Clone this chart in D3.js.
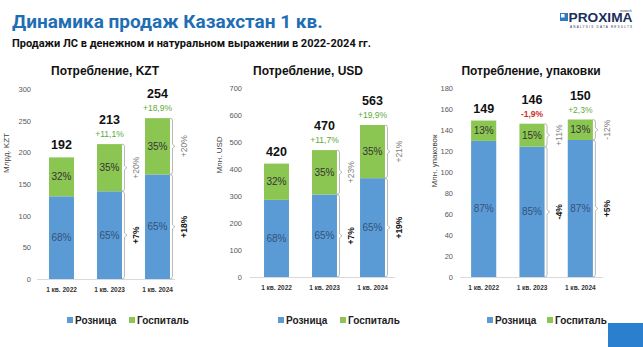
<!DOCTYPE html>
<html><head><meta charset="utf-8">
<script src="https://cdn.jsdelivr.net/npm/d3@7/dist/d3.min.js"></script>
<style>
html,body{margin:0;padding:0;background:#fff;}
svg{display:block;font-family:"Liberation Sans",Arial,sans-serif;}
</style></head>
<body><svg id="c" width="643" height="347"></svg>
<script>
// ---------- DATA ----------
const categories = ["1 кв. 2022", "1 кв. 2023", "1 кв. 2024"];
const seriesNames = ["Розница", "Госпиталь"];

// Потребление, KZT (млрд)
const kztTotals = [192, 213, 254];
const kztRetail = [130.6, 138.5, 165.1];
const kztHospital = [61.4, 74.5, 88.9];
const kztRetailShare = ["68%", "65%", "65%"];
const kztHospitalShare = ["32%", "35%", "35%"];
const kztGrowth = [null, "+11,1%", "+18,9%"];
const kztRetailGrowth = [null, "+7%", "+18%"];
const kztHospitalGrowth = [null, "+20%", "+20%"];
const kztTicks = [0, 50, 100, 150, 200, 250, 300];

// Потребление, USD (млн)
const usdTotals = [420, 470, 563];
const usdRetail = [285.6, 305.5, 366.0];
const usdHospital = [134.4, 164.5, 197.0];
const usdRetailShare = ["68%", "65%", "65%"];
const usdHospitalShare = ["32%", "35%", "35%"];
const usdGrowth = [null, "+11,7%", "+19,9%"];
const usdRetailGrowth = [null, "+7%", "+19%"];
const usdHospitalGrowth = [null, "+23%", "+21%"];
const usdTicks = [0, 100, 200, 300, 400, 500, 600, 700];

// Потребление, упаковки (млн)
const packTotals = [149, 146, 150];
const packRetail = [129.6, 124.1, 130.5];
const packHospital = [19.4, 21.9, 19.5];
const packRetailShare = ["87%", "85%", "87%"];
const packHospitalShare = ["13%", "15%", "13%"];
const packGrowth = [null, "-1,9%", "+2,3%"];
const packRetailGrowth = [null, "-4%", "+5%"];
const packHospitalGrowth = [null, "+11%", "-12%"];
const packTicks = [0, 20, 40, 60, 80, 100, 120, 140, 160, 180];

// ---------- STYLE ----------
const BLUE = "#5B9BD5", GREEN = "#8CC652";
const svg = d3.select("#c");

// Header
svg.append("text").attr("x", 12).attr("y", 28)
  .style("font-family", "Roboto, sans-serif").style("font-weight", 700)
  .style("font-size", "19px").attr("fill", "#1F6EB4")
  .text("Динамика продаж Казахстан 1 кв.");
svg.append("text").attr("x", 12).attr("y", 46.5)
  .style("font-family", "Roboto, sans-serif").style("font-weight", 700)
  .style("font-size", "11px").attr("fill", "#111")
  .text("Продажи ЛС в денежном и натуральном выражении в 2022-2024 гг.");

// Logo
const logo = svg.append("g");
logo.append("rect").attr("x", 560).attr("y", 13).attr("width", 8).attr("height", 8).attr("fill", "#2B7CC4");
logo.append("rect").attr("x", 561).attr("y", 14).attr("width", 3.5).attr("height", 3.5).attr("fill", "#fff");
logo.append("text").attr("x", 568.5).attr("y", 22).style("font-weight", 700).style("font-size", "12.5px")
  .attr("fill", "#1B2F5B").attr("textLength", 64).attr("lengthAdjust", "spacingAndGlyphs").text("PROXIMA");
logo.append("text").attr("x", 570).attr("y", 28).style("font-size", "3px").attr("fill", "#1B2F5B")
  .attr("textLength", 62).text("ANALYSIS   DATA   RESULTS");
logo.append("text").attr("x", 620).attr("y", 11.5).style("font-size", "3px").attr("fill", "#1B2F5B").text("research");

// bottom-right decoration
svg.append("rect").attr("x", 608).attr("y", 323).attr("width", 35).attr("height", 24).attr("fill", "#2A80CF");

function bracketPath(x, y1, y2) {
  const ym = (y1 + y2) / 2;
  return `M${x-2.5},${y1} Q${x},${y1} ${x},${y1+2.5} L${x},${ym-2} L${x+2.5},${ym} L${x},${ym+2} L${x},${y2-2.5} Q${x},${y2} ${x-2.5},${y2}`;
}

function panel(cfg) {
  const g = svg.append("g");
  const x = d3.scaleBand().domain(categories).range([cfg.x0, cfg.x1])
    .paddingInner(0.48).paddingOuter(0.24);
  const y = d3.scaleLinear().domain([0, cfg.ticks[cfg.ticks.length - 1]]).range([cfg.yBase, cfg.yTop]);

  // title
  g.append("text").attr("x", cfg.titleX).attr("y", 75).attr("text-anchor", "middle")
    .style("font-weight", 700).style("font-size", "12px").attr("fill", "#111").text(cfg.title);

  // y axis (ticks only, no line)
  const ax = g.append("g").attr("transform", `translate(${cfg.tickX},0)`)
    .call(d3.axisLeft(y).tickValues(cfg.ticks).tickSize(0).tickPadding(0).tickFormat(d3.format("d")));
  ax.select(".domain").remove();
  ax.selectAll("text").style("font-size", "7.5px").attr("fill", "#595959")
    .style("font-family", '"Liberation Sans",Arial,sans-serif');

  // axis title
  g.append("text").attr("transform", `translate(${cfg.axTitleX},${cfg.axTitleY}) rotate(-90)`)
    .attr("text-anchor", "middle").style("font-size", "8px").attr("fill", "#404040").text(cfg.axTitle);

  // baseline
  g.append("line").attr("x1", cfg.lineX0).attr("x2", cfg.lineX1).attr("y1", cfg.yBase + 0.5).attr("y2", cfg.yBase + 0.5)
    .attr("stroke", "#d9d9d9").attr("stroke-width", 1);

  const bw = x.bandwidth();
  categories.forEach((c, i) => {
    const bx = x(c);
    const r = cfg.retail[i], h = cfg.hospital[i];
    g.append("rect").attr("x", bx).attr("y", y(r)).attr("width", bw).attr("height", y(0) - y(r)).attr("fill", BLUE);
    g.append("rect").attr("x", bx).attr("y", y(r + h)).attr("width", bw).attr("height", y(r) - y(r + h)).attr("fill", GREEN);
    g.append("text").attr("x", bx + bw / 2).attr("y", (y(0) + y(r)) / 2).attr("dy", "0.35em")
      .attr("text-anchor", "middle").style("font-size", "10px").attr("fill", "#34527A").text(cfg.retailShare[i]);
    g.append("text").attr("x", bx + bw / 2).attr("y", (y(r) + y(r + h)) / 2).attr("dy", "0.35em")
      .attr("text-anchor", "middle").style("font-size", "10px").attr("fill", "#333").text(cfg.hospitalShare[i]);
    const top = y(cfg.totals[i]);
    const hasG = cfg.growth[i] != null;
    g.append("text").attr("x", bx + bw / 2).attr("y", hasG ? top - 20 : top - 8)
      .attr("text-anchor", "middle").style("font-weight", 700).style("font-size", "12.5px").attr("fill", "#111")
      .text(cfg.totals[i]);
    if (hasG) {
      const neg = cfg.growth[i][0] === "-";
      g.append("text").attr("x", bx + bw / 2).attr("y", top - 7)
        .attr("text-anchor", "middle").style("font-size", "8.5px")
        .attr("fill", neg ? "#C8302B" : "#5EA83A").style("font-weight", neg ? 700 : 400).text(cfg.growth[i]);
      const bxr = bx + bw + 2.5;
      g.append("path").attr("d", bracketPath(bxr, y(r + h), y(r))).attr("fill", "none").attr("stroke", "#a6a6a6").attr("stroke-width", 0.8);
      g.append("path").attr("d", bracketPath(bxr, y(r), y(0))).attr("fill", "none").attr("stroke", "#a6a6a6").attr("stroke-width", 0.8);
      const lx = bxr + 12;
      const ymH = (y(r + h) + y(r)) / 2, ymR = (y(r) + y(0)) / 2;
      g.append("text").attr("transform", `translate(${lx},${ymH}) rotate(-90)`).attr("dy", "0.35em")
        .attr("text-anchor", "middle").style("font-size", "8.5px").attr("fill", "#7f7f7f").text(cfg.hospitalGrowth[i]);
      g.append("text").attr("transform", `translate(${lx},${ymR}) rotate(-90)`).attr("dy", "0.35em")
        .attr("text-anchor", "middle").style("font-size", "8.5px").style("font-weight", 700).attr("fill", "#111").text(cfg.retailGrowth[i]);
    }
    g.append("text").attr("x", bx + bw / 2).attr("y", cfg.catY).attr("text-anchor", "middle")
      .style("font-size", "6.5px").style("font-weight", 700).attr("fill", "#333").text(c);
  });

  const lg = g.append("g");
  [[cfg.legX[0], BLUE, seriesNames[0]], [cfg.legX[1], GREEN, seriesNames[1]]].forEach(([lx, col, name]) => {
    lg.append("rect").attr("x", lx).attr("y", 317).attr("width", 6).attr("height", 6).attr("fill", col);
    lg.append("text").attr("x", lx + 8).attr("y", 323.5).style("font-size", "10px").style("font-weight", 700)
      .attr("fill", "#222").text(name);
  });
}

panel({
  title: "Потребление, KZT", titleX: 105, axTitle: "Млрд. KZT", axTitleX: 9, axTitleY: 153,
  x0: 37.5, x1: 181.5, yBase: 279, yTop: 89, tickX: 31, lineX0: 37, lineX1: 175, catY: 292,
  ticks: kztTicks, totals: kztTotals, retail: kztRetail, hospital: kztHospital,
  retailShare: kztRetailShare, hospitalShare: kztHospitalShare, growth: kztGrowth,
  retailGrowth: kztRetailGrowth, hospitalGrowth: kztHospitalGrowth, legX: [67, 129]
});
panel({
  title: "Потребление, USD", titleX: 308, axTitle: "Млн. USD", axTitleX: 222, axTitleY: 155,
  x0: 252.5, x1: 396.5, yBase: 277, yTop: 88, tickX: 242, lineX0: 250, lineX1: 395, catY: 290,
  ticks: usdTicks, totals: usdTotals, retail: usdRetail, hospital: usdHospital,
  retailShare: usdRetailShare, hospitalShare: usdHospitalShare, growth: usdGrowth,
  retailGrowth: usdRetailGrowth, hospitalGrowth: usdHospitalGrowth, legX: [278, 340]
});
panel({
  title: "Потребление, упаковки", titleX: 531, axTitle: "Млн. упаковок", axTitleX: 437, axTitleY: 161,
  x0: 459.5, x1: 604.5, yBase: 277, yTop: 88, tickX: 453, lineX0: 460, lineX1: 603, catY: 290,
  ticks: packTicks, totals: packTotals, retail: packRetail, hospital: packHospital,
  retailShare: packRetailShare, hospitalShare: packHospitalShare, growth: packGrowth,
  retailGrowth: packRetailGrowth, hospitalGrowth: packHospitalGrowth, legX: [487, 547]
});
</script>
</body></html>
